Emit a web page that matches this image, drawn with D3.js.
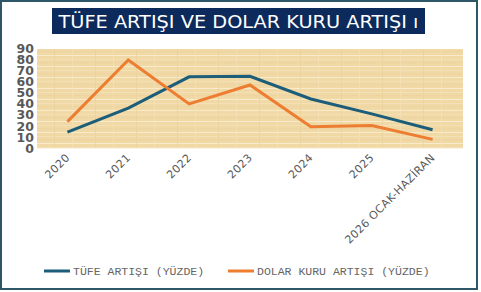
<!DOCTYPE html>
<html><head><meta charset="utf-8">
<script src="https://cdn.jsdelivr.net/npm/d3@7"></script>
<style>body{margin:0;background:#fff}svg{display:block}</style>
</head><body>
<svg id="c" width="481" height="292"></svg>
<script>
const categories = ["2020","2021","2022","2023","2024","2025","2026 OCAK-HAZİRAN"];
const tufe = [14.6, 36.1, 64.3, 64.8, 44.4, 31.0, 16.7];
const dolar = [24, 79.5, 40, 57, 19.5, 20.5, 8];
const yTicks = [0,10,20,30,40,50,60,70,80,90];
const seriesNames = ["TÜFE ARTIŞI (YÜZDE)","DOLAR KURU ARTIŞI (YÜZDE)"];
const title = "TÜFE ARTIŞI VE DOLAR KURU ARTIŞI ı";

const svg = d3.select("#c");
svg.append("rect").attr("x",1).attr("y",1).attr("width",476).attr("height",288)
  .attr("fill","#fff").attr("stroke","#2d5766").attr("stroke-width",2);

svg.append("rect").attr("x",52).attr("y",8).attr("width",373).attr("height",26).attr("fill","#0c2a5c");
svg.append("text").attr("x",238.5).attr("y",28).attr("text-anchor","middle")
  .attr("font-family","DejaVu Sans").attr("font-size",18.5).attr("fill","#fff")
  .attr("textLength",360).attr("lengthAdjust","spacingAndGlyphs").text(title);

const L=37,R=463,T=48.3,B=148.3;
const x = d3.scaleBand().domain(categories).range([L,R]);
const y = d3.scaleLinear().domain([0,90]).range([B,T]);

const defs = svg.append("defs");
const pat = defs.append("pattern").attr("id","pap").attr("patternUnits","userSpaceOnUse")
  .attr("width",41).attr("height",11);
pat.append("rect").attr("width",41).attr("height",11).attr("fill","#f1d9a5");
pat.append("rect").attr("y",0).attr("width",41).attr("height",1).attr("fill","#f8ebcd");
pat.append("rect").attr("y",4).attr("width",41).attr("height",0.7).attr("fill","#f5e4bd");
pat.append("rect").attr("y",7.5).attr("width",41).attr("height",0.6).attr("fill","#ead0a0");
pat.append("rect").attr("x",13).attr("width",0.7).attr("height",11).attr("fill","#ebd29c");
pat.append("rect").attr("x",31).attr("width",0.6).attr("height",11).attr("fill","#f5e3b9");
svg.append("rect").attr("x",L).attr("y",49).attr("width",R-L).attr("height",B-49).attr("fill","url(#pap)");

const ya = svg.append("g").attr("transform",`translate(${L},0)`)
  .call(d3.axisLeft(y).tickValues(yTicks).tickSize(0).tickPadding(3));
ya.select(".domain").remove();
ya.selectAll("text").attr("font-family","DejaVu Sans").attr("font-weight","bold")
  .attr("font-size",12.5).attr("fill","#595959");

const xa = svg.append("g").attr("transform",`translate(0,${B})`)
  .call(d3.axisBottom(x).tickSize(0).tickPadding(0));
xa.select(".domain").remove();
xa.selectAll("text").attr("font-family","DejaVu Sans").attr("font-size",11).attr("fill","#595959")
  .attr("letter-spacing",0.4).attr("text-anchor","end").attr("dy",0)
  .attr("transform","translate(3,10) rotate(-45)");

const line = d3.line().x((d,i)=>x(categories[i])+x.bandwidth()/2).y(d=>y(d));
svg.append("path").datum(tufe).attr("d",line).attr("fill","none").attr("stroke","#1c5d7a").attr("stroke-width",3);
svg.append("path").datum(dolar).attr("d",line).attr("fill","none").attr("stroke","#ed7d31").attr("stroke-width",3);

const leg = [{n:seriesNames[0],c:"#1c5d7a",x:44},{n:seriesNames[1],c:"#ed7d31",x:228}];
leg.forEach(l=>{
  svg.append("line").attr("x1",l.x).attr("x2",l.x+26).attr("y1",271).attr("y2",271)
    .attr("stroke",l.c).attr("stroke-width",3);
  svg.append("text").attr("x",l.x+29).attr("y",275).attr("font-family","Liberation Mono")
    .attr("font-size",11.5).attr("fill","#666").text(l.n);
});
</script>
</body></html>
